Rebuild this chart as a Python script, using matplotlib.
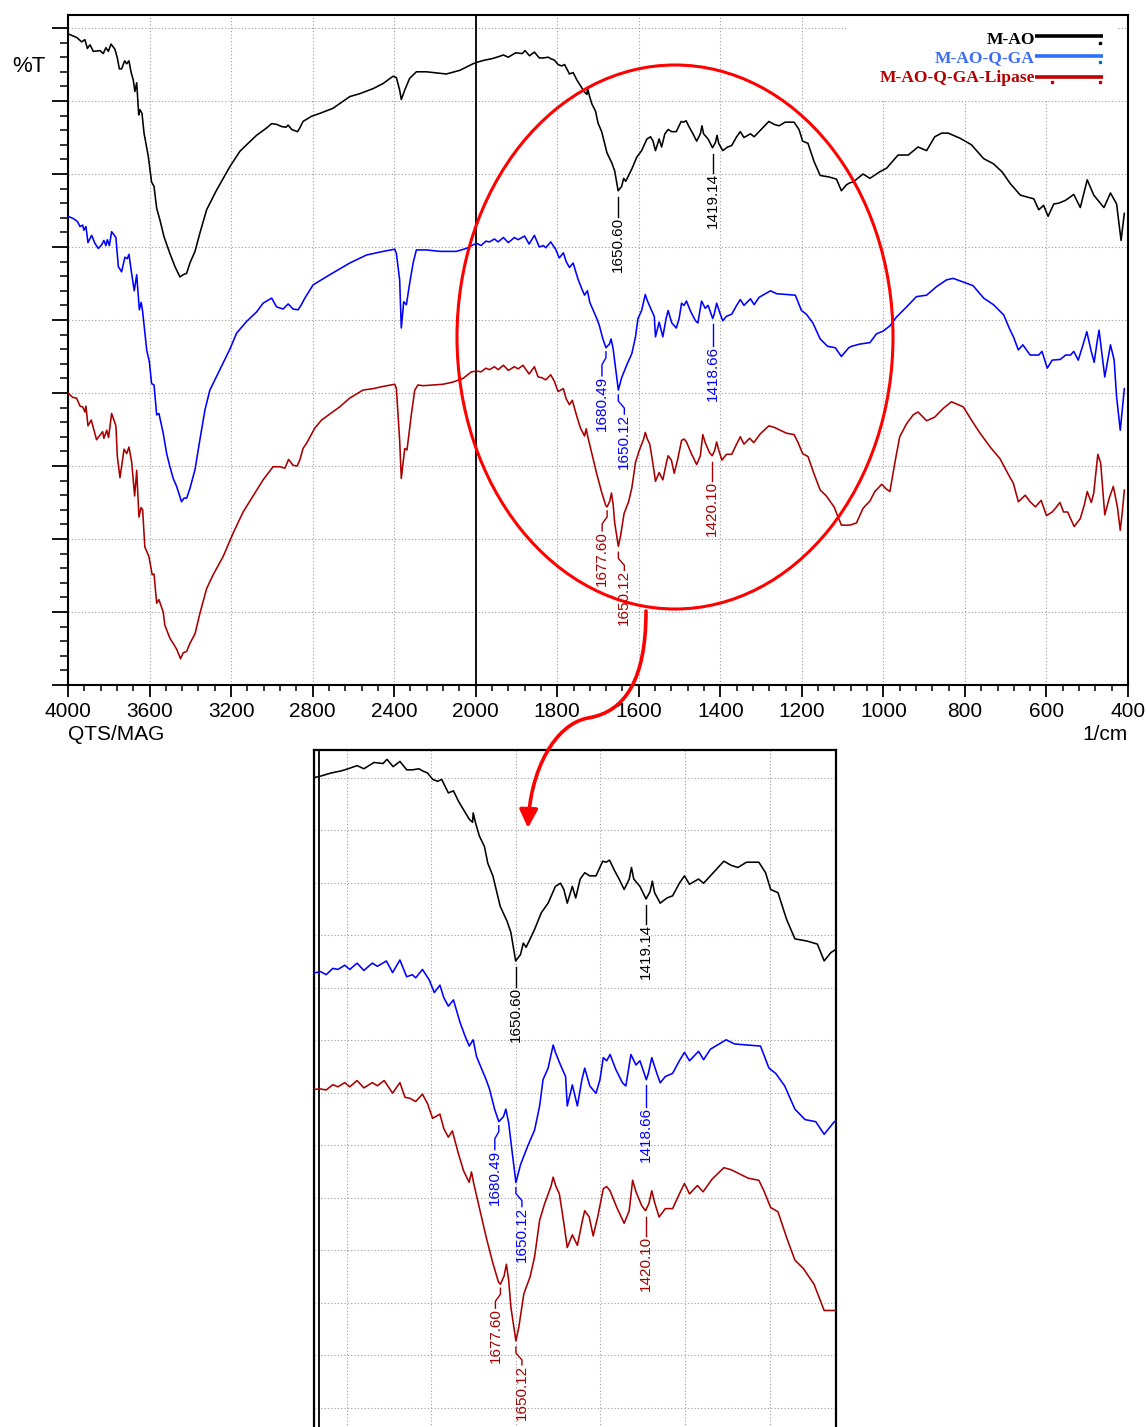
import numpy as np
import matplotlib
matplotlib.use("Agg")
import matplotlib.pyplot as plt
from matplotlib import transforms
from matplotlib.patches import Ellipse, Rectangle, FancyArrowPatch
from matplotlib.path import Path

plt.rcParams['font.family'] = ['Liberation Sans', 'DejaVu Sans']

W, H, DPI = 1146, 1427, 100

# ---------------- spectra (wavenumber in 1/cm, transmittance scale) ----------------
mao_wn = [4000, 3957, 3933, 3917, 3905, 3892, 3876, 3843, 3827, 3814, 3802, 3789, 3770, 3758, 3748,
          3737, 3722, 3712, 3701, 3691, 3680, 3672, 3663, 3653, 3647, 3637, 3627, 3606, 3590, 3578,
          3565, 3549, 3529, 3500, 3475, 3451, 3435, 3418, 3402, 3377, 3353, 3320, 3271, 3206, 3157,
          3124, 3075, 3026, 3001, 2977, 2952, 2931, 2920, 2903, 2874, 2863, 2847, 2806, 2765, 2700,
          2618, 2569, 2503, 2454, 2405, 2389, 2373, 2365, 2348, 2324, 2291, 2242, 2144, 2078, 2013,
          1997, 1978, 1960, 1948, 1932, 1920, 1902, 1886, 1879, 1868, 1856, 1844, 1834, 1822, 1816,
          1807, 1798, 1789, 1782, 1770, 1761, 1752, 1743, 1733, 1727, 1726, 1721, 1715, 1706, 1700,
          1691, 1678, 1666, 1659, 1650.60, 1642, 1637, 1632, 1617, 1605, 1593, 1580, 1571, 1565, 1559,
          1550, 1544, 1536, 1528, 1519, 1508, 1496, 1490, 1484, 1476, 1467, 1458, 1449, 1445, 1441,
          1430, 1419.14, 1412, 1408, 1404, 1394, 1382, 1372, 1360, 1351, 1342, 1326, 1317, 1305, 1281,
          1268, 1256, 1241, 1219, 1207, 1198, 1185, 1170, 1155, 1134, 1115, 1103, 1091, 1082,
          1074, 1050, 1033, 1009, 992, 964, 939, 915, 894, 874, 857, 841, 812, 784, 754, 730, 709, 689,
          664, 631, 619, 607, 596, 582, 570, 553, 533, 517, 500, 484, 459, 443, 428, 417, 409]
mao_t = [89.2, 88.7, 88.1, 88.4, 87.2, 87.7, 86.8, 86.9, 86.5, 87.3, 86.8, 87.8, 87.1, 85.9, 84.4,
         84.4, 85.5, 85.1, 85.5, 84.0, 82.9, 81.3, 82.5, 78.1, 78.8, 78.3, 75.6, 72.4, 68.9, 68.3,
         65.3, 63.7, 61.4, 59.1, 57.3, 55.9, 56.2, 56.4, 57.8, 59.4, 61.9, 65.1, 67.8, 71.0, 73.1,
         74.0, 75.3, 76.3, 76.9, 76.8, 76.5, 76.4, 76.7, 76.1, 75.8, 76.3, 77.2, 77.9, 78.3, 79.0,
         80.6, 81.0, 81.7, 82.4, 83.4, 83.2, 81.5, 80.2, 81.5, 83.1, 84.0, 84.0, 83.7, 84.2, 85.1,
         85.3, 85.6, 85.8, 86.0, 86.3, 86.0, 86.6, 86.5, 86.9, 86.2, 86.7, 85.9, 85.9, 86.0, 85.8,
         85.6, 85.0, 84.8, 85.0, 83.7, 83.9, 82.9, 82.1, 81.2, 80.9, 81.8, 80.7, 79.6, 78.6, 77.0,
         75.8, 72.9, 71.5, 70.4, 67.7, 68.3, 69.4, 69.0, 70.7, 72.3, 73.2, 74.8, 75.1, 74.5, 73.2,
         74.8, 73.7, 75.5, 76.1, 75.8, 75.8, 77.2, 77.1, 77.3, 76.4, 75.5, 74.5, 75.5, 76.6, 75.5,
         74.8, 73.6, 74.3, 75.3, 74.2, 73.2, 73.7, 73.9, 75.1, 75.8, 75.0, 75.5, 75.1, 75.8, 77.2,
         76.8, 76.6, 77.1, 77.1, 76.1, 74.5, 74.2, 71.7, 69.8, 69.6, 69.3, 67.7, 68.5, 68.8,
         68.9, 70.0, 69.4, 70.3, 70.8, 72.6, 72.6, 73.7, 73.2, 75.1, 75.6, 75.6, 74.9, 74.0, 72.1, 71.4,
         70.3, 68.7, 67.1, 66.6, 65.1, 65.7, 64.2, 65.9, 66.0, 66.4, 67.2, 65.4, 69.2, 67.1, 65.4, 67.4,
         65.9, 60.9, 64.6]

ga_wn = [4000, 3974, 3954, 3941, 3928, 3922, 3912, 3902, 3884, 3868, 3851, 3835, 3824, 3814, 3807,
         3797, 3786, 3765, 3753, 3737, 3721, 3709, 3701, 3688, 3675, 3663, 3650, 3641, 3634, 3614,
         3601, 3590, 3578, 3565, 3554, 3533, 3516, 3500, 3484, 3467, 3443, 3431, 3418, 3402, 3377,
         3353, 3328, 3304, 3255, 3206, 3173, 3124, 3075, 3043, 3001, 2977, 2945, 2920, 2896, 2871,
         2855, 2838, 2798, 2716, 2618, 2536, 2454, 2397, 2389, 2373, 2365, 2353, 2340, 2324, 2307,
         2291, 2242, 2176, 2095, 2046, 2013,
         1997, 1987, 1975, 1966, 1954, 1945, 1932, 1920, 1905, 1896, 1880, 1869, 1856, 1844, 1834,
         1828, 1816, 1804, 1795, 1785, 1778, 1770, 1761, 1749, 1740, 1733, 1726, 1720, 1703, 1697,
         1688, 1680.49, 1672, 1668, 1663, 1657, 1650.12, 1642, 1629, 1617, 1608, 1602, 1593, 1584, 1580,
         1571, 1562, 1559, 1550, 1541, 1533, 1528, 1519, 1508, 1501, 1495, 1489, 1483, 1473, 1461,
         1455, 1446, 1437, 1430, 1418.66, 1415, 1409, 1400, 1394, 1385, 1372, 1360, 1351, 1342, 1326,
         1317, 1305, 1277, 1262, 1238, 1216, 1201, 1189, 1173, 1155, 1137, 1118, 1103, 1085,
         1078, 1058, 1033, 1017, 1000, 984, 968, 943, 919, 894, 869, 845, 829, 804, 780, 754, 730, 705,
         689, 681, 669, 658, 640, 619, 611, 598, 586, 566, 553, 541, 533, 522, 512, 501, 491, 483, 475,
         471, 465, 457, 443, 434, 428, 419, 414, 409]
ga_t = [64.2, 63.9, 63.5, 62.8, 63.0, 62.3, 62.8, 60.6, 61.6, 60.5, 59.8, 60.3, 60.9, 60.2, 61.0,
        60.2, 62.1, 61.3, 57.3, 56.6, 58.6, 58.4, 59.0, 56.4, 54.0, 56.2, 51.4, 52.4, 51.2, 45.9,
        44.3, 41.3, 41.1, 37.0, 37.2, 34.5, 31.7, 29.9, 28.3, 27.2, 25.1, 25.6, 25.6, 26.9, 29.5,
        33.6, 37.7, 40.4, 43.2, 46.0, 48.2, 49.8, 51.1, 52.3, 53.0, 51.8, 51.5, 52.2, 51.5, 51.4,
        52.1, 53.0, 54.8, 56.2, 57.8, 58.9, 59.4, 59.7, 59.1, 55.5, 48.9, 52.5, 52.1, 55.0, 57.8,
        59.6, 59.6, 59.4, 59.4, 59.8, 60.3,
        60.5, 60.2, 60.8, 60.7, 61.1, 60.7, 61.3, 60.6, 61.3, 61.0, 61.5, 60.4, 61.6, 60.0, 60.2,
        59.9, 60.7, 59.7, 58.5, 59.2, 58.0, 57.2, 57.8, 55.6, 54.3, 53.4, 54.0, 52.4, 50.2, 49.3,
        47.4, 46.2, 46.7, 47.4, 46.1, 43.4, 40.4, 42.1, 43.9, 45.4, 47.7, 50.2, 51.3, 53.5, 52.8,
        51.6, 50.5, 47.7, 49.7, 47.7, 50.2, 51.3, 49.6, 48.9, 50.2, 52.3, 52.0, 52.6, 51.2, 49.9,
        49.6, 52.6, 51.6, 52.0, 50.2, 50.8, 52.3, 50.8, 49.9, 50.5, 50.8, 52.0, 52.8, 52.0, 52.9,
        52.1, 53.1, 54.0, 53.6, 53.5, 53.4, 51.3, 50.8, 49.6, 47.4, 46.4, 46.2, 45.0, 46.2,
        46.4, 46.7, 46.9, 48.1, 48.5, 49.2, 50.4, 51.8, 53.2, 53.4, 54.6, 55.5, 55.7, 55.2, 54.7, 53.0,
        52.1, 50.7, 48.6, 47.7, 45.9, 46.6, 45.2, 45.2, 45.7, 43.4, 44.5, 44.6, 45.2, 45.2, 45.7, 44.5,
        46.3, 48.4, 45.9, 44.2, 47.3, 48.6, 45.9, 42.2, 46.6, 44.5, 39.5, 34.9, 37.7, 40.6]

lip_wn = [4000, 3977, 3958, 3941, 3928, 3917, 3912, 3902, 3886, 3860, 3830, 3824, 3810, 3801, 3786,
          3765, 3758, 3745, 3725, 3712, 3701, 3688, 3673, 3663, 3652, 3642, 3634, 3623, 3603, 3587,
          3578, 3565, 3554, 3533, 3525, 3500, 3484, 3467, 3448, 3435, 3418, 3402, 3377, 3353, 3320,
          3288, 3239, 3190, 3141, 3083, 3043, 2994, 2961, 2936, 2918, 2896, 2876, 2863, 2847, 2830,
          2789, 2756, 2667, 2618, 2553, 2503, 2454, 2397, 2389, 2373, 2365, 2348, 2337, 2315, 2299,
          2283, 2258, 2160, 2111, 2062, 2021,
          1997, 1987, 1975, 1966, 1954, 1945, 1932, 1920, 1905, 1896, 1884, 1869, 1856, 1847, 1838,
          1828, 1816, 1807, 1798, 1785, 1778, 1770, 1763, 1752, 1743, 1733, 1729, 1725, 1715, 1703,
          1691, 1681, 1677.60, 1671, 1667, 1663, 1659, 1650.12, 1645, 1636, 1625, 1617, 1608, 1599, 1588,
          1584, 1579, 1573, 1565, 1559, 1550, 1541, 1532, 1528, 1520, 1513, 1505, 1495, 1489, 1483,
          1471, 1458, 1449, 1443, 1437, 1427, 1420.10, 1414, 1409, 1404, 1396, 1385, 1372, 1360, 1351,
          1342, 1328, 1318, 1302, 1281, 1268, 1253, 1238, 1219, 1210, 1198, 1185, 1170, 1155, 1140,
          1121, 1103, 1082,
          1066, 1050, 1033, 1021, 1004, 994, 984, 972, 960, 943, 927, 915, 894, 874, 853, 833, 804, 784,
          763, 738, 714, 693, 681, 669, 652, 640, 627, 613, 600, 586, 578, 567, 558, 548, 532, 517, 507,
          500, 490, 484, 474, 467, 457, 446, 436, 426, 419, 414, 409]
lip_t = [40.0, 39.4, 39.3, 38.2, 38.1, 37.4, 38.2, 35.5, 36.3, 33.6, 34.7, 33.8, 34.9, 33.9, 37.2,
         35.5, 31.3, 28.4, 32.3, 31.7, 32.6, 30.6, 25.9, 29.4, 23.0, 24.3, 24.0, 18.9, 17.6, 15.1,
         15.2, 11.2, 11.7, 10.0, 8.2, 6.4, 5.7, 4.9, 3.6, 4.4, 4.6, 5.7, 7.0, 9.8, 13.2,
         15.1, 17.6, 20.8, 23.7, 26.3, 28.1, 29.9, 29.9, 29.7, 30.9, 30.1, 30.0, 30.8, 32.4, 33.1,
         35.2, 36.3, 38.1, 39.3, 40.4, 40.6, 40.9, 41.2, 40.6, 33.5, 28.3, 32.4, 32.2, 37.2, 40.4,
         41.1, 41.0, 41.2, 41.5, 42.0, 42.9,
         43.0, 42.9, 43.4, 43.2, 43.6, 43.2, 43.8, 43.1, 43.6, 43.3, 43.8, 42.6, 43.6, 42.2, 42.1,
         41.8, 42.5, 41.6, 40.2, 40.6, 39.2, 38.4, 39.0, 36.8, 35.2, 34.1, 35.1, 34.0, 31.7, 28.9,
         26.4, 24.6, 24.4, 25.2, 26.3, 24.8, 22.2, 19.0, 20.3, 23.5, 25.1, 27.0, 30.5, 32.1, 33.7,
         34.6, 33.7, 33.0, 30.2, 27.9, 29.1, 28.1, 30.5, 31.4, 30.8, 29.0, 30.8, 33.5, 33.7, 33.3,
         31.7, 30.2, 31.4, 34.3, 33.2, 31.9, 31.4, 32.1, 33.3, 32.2, 30.8, 31.6, 31.6, 33.0, 34.0,
         33.0, 33.8, 33.2, 34.4, 35.5, 35.3, 34.9, 34.5, 34.3, 33.3, 31.7, 31.3, 28.9, 26.7, 25.9,
         24.4, 21.9, 21.9,
         22.2, 24.2, 25.2, 26.5, 27.5, 26.9, 26.5, 30.4, 34.0, 35.8, 37.0, 37.4, 36.2, 36.7, 37.9, 38.8,
         38.1, 36.3, 34.5, 32.6, 31.0, 28.8, 27.6, 25.1, 26.0, 25.1, 24.4, 25.3, 23.2, 23.7, 24.2, 25.0,
         23.7, 23.7, 21.7, 22.8, 24.7, 26.5, 25.0, 26.3, 31.6, 30.4, 23.3, 25.6, 27.2, 24.4, 21.2, 23.7,
         26.7]

series_names = ['M-AO', 'M-AO-Q-GA', 'M-AO-Q-GA-Lipase']
line_colors = ['#000000', '#0000ff', '#a80000']
legend_text_colors = ['#000000', '#3d6cf5', '#b40000']
legend_line_colors = ['#000000', '#2f6dff', '#c00000']

# vertical shift of each spectrum in the enlarged view
zoom_shift = [-0.15, 6.04, 12.36]

# labelled bands: (series index, wavenumber, text, x shift px, gap px, drop px)
peak_marks = [
    (0, 1650.60, '1650.60', 0, 6, 26),
    (0, 1419.14, '1419.14', 0, 6, 25),
    (1, 1680.49, '1680.49', -4, 4, 28),
    (1, 1650.12, '1650.12', 6, 5, 24),
    (1, 1418.66, '1418.66', 0, 5, 27),
    (2, 1677.60, '1677.60', -5, 4, 24),
    (2, 1650.12, '1650.12', 6, 6, 24),
    (2, 1420.10, '1420.10', 0, 6, 25),
]

x_major = [4000, 3600, 3200, 2800, 2400, 2000, 1800, 1600, 1400, 1200, 1000, 800, 600, 400]
zoom_x_grid = [1950, 1800, 1650, 1500, 1350, 1200]

spectra = [(np.array(mao_wn, float), np.array(mao_t, float)),
           (np.array(ga_wn, float), np.array(ga_t, float)),
           (np.array(lip_wn, float), np.array(lip_t, float))]


# wavenumber axis: the 4000-2000 range is drawn at half the scale of 2000-400
def fwd(w):
    w = np.asarray(w, float)
    return np.where(w > 2000, 2000 + (w - 2000) / 2.0, w)


def inv(v):
    v = np.asarray(v, float)
    return np.where(v > 2000, 2000 + (v - 2000) * 2.0, v)


def mark_peak(ax, wn, w, t, shift, text, color, dx, gap, drop):
    order = np.argsort(w)
    y = float(np.interp(wn, w[order], t[order])) + shift
    tr = transforms.Affine2D().scale(1, -1) + transforms.ScaledTranslation(wn, y, ax.transData)
    if dx:
        xs, ys = [0, 0, dx, dx], [gap, gap + 6, gap + 13, drop]
    else:
        xs, ys = [0, 0], [gap, drop]
    ax.plot(xs, ys, color=color, lw=1.0, transform=tr, clip_on=False, zorder=4)
    ax.text(dx, drop, text, transform=tr, rotation=90, ha='center', va='top',
            color=color, fontsize=11, clip_on=False, zorder=4)


fig = plt.figure(figsize=(W / DPI, H / DPI), dpi=DPI)

# ---------------- main spectrum panel ----------------
ax = fig.add_axes([68 / W, 1 - 685 / H, 1060 / W, 670 / H])
ax.set_xscale('function', functions=(fwd, inv))
for (w, t), c in zip(spectra, line_colors):
    ax.plot(w, t, color=c, lw=1.15, zorder=3)
for si, wn, txt, dx, gap, drop in peak_marks:
    w, t = spectra[si]
    mark_peak(ax, wn, w, t, 0.0, txt, line_colors[si], dx, gap, drop)
ax.axvline(2000, color='black', lw=1.3, zorder=2)

minor_x = [v for v in list(np.arange(4000, 2000, -80)) + list(np.arange(2000, 399, -40))
           if v not in x_major]
ax.set_xticks(x_major)
ax.set_xticklabels([str(v) for v in x_major])
ax.set_xticks(minor_x, minor=True)
ax.set_yticks(np.arange(0, 91, 10))
ax.set_yticks([v for v in np.arange(0, 91, 2) if v % 10], minor=True)
ax.set_xlim(4000, 400)
ax.set_ylim(0, 670 / 7.3)
ax.tick_params(axis='x', which='major', direction='out', length=8.6, width=1.3,
               labelsize=15, pad=3.5)
ax.tick_params(axis='x', which='minor', direction='out', length=4.3, width=1.1)
ax.tick_params(axis='y', which='major', direction='out', length=11.5, width=1.3, labelleft=False)
ax.tick_params(axis='y', which='minor', direction='out', length=5.8, width=1.1)
ax.grid(True, which='major', color='#9c9c9c', linestyle=(0, (1, 2)), lw=0.8)
ax.set_axisbelow(True)
for sp in ax.spines.values():
    sp.set_linewidth(1.5)

fig.text(12 / W, 1 - 72.3 / H, '%T', fontsize=16, va='baseline', ha='left')
fig.text(68 / W, 1 - 740 / H, 'QTS/MAG', fontsize=15, va='baseline', ha='left')
fig.text(1128 / W, 1 - 740 / H, '1/cm', fontsize=15, va='baseline', ha='right')

# ---------------- enlarged 2000-1080 view ----------------
z_top, z_bottom = 1 - 750 / H, -0.01
axz = fig.add_axes([314 / W, z_bottom, 522 / W, z_top - z_bottom])
for (w, t), c, s in zip(spectra, line_colors, zoom_shift):
    axz.plot(w, t + s, color=c, lw=1.15, zorder=3)
for si, wn, txt, dx, gap, drop in peak_marks:
    w, t = spectra[si]
    mark_peak(axz, wn, w, t, zoom_shift[si], txt, line_colors[si], dx, gap, drop)
axz.axvline(2000, color='black', lw=1.3, zorder=2)
px_per_unit = 10.5
y_top = 85 + 27.7 / px_per_unit
h_px = (z_top - z_bottom) * H
y_bottom = y_top - h_px / px_per_unit
axz.set_xticks(zoom_x_grid)
axz.set_yticks([v for v in np.arange(15, 90, 5) if v > y_bottom])
axz.set_xlim(2008.5, 1082)
axz.set_ylim(y_bottom, y_top)
axz.tick_params(length=0, labelbottom=False, labelleft=False)
axz.grid(True, color='#9c9c9c', linestyle=(0, (1, 2)), lw=0.8)
axz.set_axisbelow(True)
for sp in axz.spines.values():
    sp.set_linewidth(1.6)

# ---------------- overlay: legend, highlight ellipse and arrow ----------------
ov = fig.add_axes([0, 0, 1, 1], zorder=10)
ov.set_xlim(0, W)
ov.set_ylim(H, 0)
ov.axis('off')
ov.patch.set_alpha(0)

ov.add_patch(Rectangle((848, 17), 270, 82, facecolor='white', edgecolor='none', zorder=1))
leg_text_y = [43.5, 62.0, 81.5]
leg_line_y = [35.5, 55.7, 77.0]
for name, tc, lc, ty, ly in zip(series_names, legend_text_colors, legend_line_colors,
                                leg_text_y, leg_line_y):
    ov.text(1035, ty, name, ha='right', va='baseline', color=tc, fontsize=12.6,
            fontfamily='Liberation Serif', fontweight='bold', zorder=3)
    ov.plot([1035, 1103], [ly, ly], color=lc, lw=2.6, solid_capstyle='butt', zorder=2)
ov.plot([1100], [42.7], 's', ms=1.6, color='#000000', zorder=3)
ov.plot([1100], [61.7], 's', ms=1.6, color='#0070c0', zorder=3)
ov.plot([1051.7, 1100], [81.7, 81.7], 's', ms=1.6, linestyle='none', color='#c00000', zorder=3)

ov.add_patch(Ellipse((675, 337), 436, 544, fill=False, edgecolor='#ff0000', lw=2.2, zorder=4))
arrow_path = Path([(646, 611), (646, 680), (625, 712), (588, 718),
                   (555, 724), (530, 770), (528, 828)],
                  [Path.MOVETO, Path.CURVE4, Path.CURVE4, Path.CURVE4,
                   Path.CURVE4, Path.CURVE4, Path.CURVE4])
ov.add_patch(FancyArrowPatch(path=arrow_path, arrowstyle='-|>,head_length=11,head_width=5.5',
                             mutation_scale=1, color='#ff0000', lw=2.6, zorder=5))

fig.savefig('out.png', dpi=DPI)
